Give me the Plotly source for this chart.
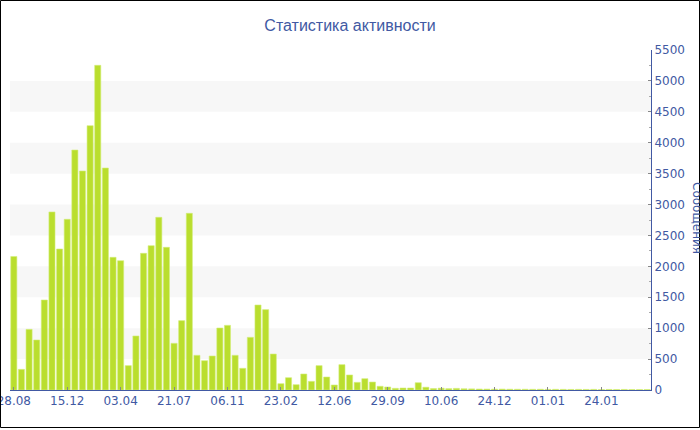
import plotly.graph_objects as go

# ---- data ----
bar_index = list(range(84))
values = [
    2160, 334, 981, 809, 1456, 2880, 2281, 2761, 3882, 3543,
    4276, 5252, 3591, 2146, 2092, 394, 874, 2211, 2335, 2793,
    2308, 755, 1122, 2858, 561, 474, 550, 1003, 1046, 561,
    351, 852, 1375, 1300, 582, 102, 199, 86, 259, 140,
    394, 210, 81, 410, 243, 124, 183, 129, 60, 49,
    27, 32, 32, 118, 45, 24, 30, 22, 26, 20,
    18, 16, 15, 14, 15, 13, 12, 12, 11, 12,
    10, 11, 10, 9, 10, 9, 10, 8, 9, 8,
    9, 8, 7, 8,
]
tick_positions = [0, 7, 14, 21, 28, 35, 42, 49, 56, 63, 70, 77]
tick_labels = ["28.08", "15.12", "03.04", "21.07", "06.11", "23.02",
               "12.06", "29.09", "10.06", "24.12", "01.01", "24.01"]
band_starts = [500, 1500, 2500, 3500, 4500]

W, H = 700, 430
L, R, T, B = 10, 49, 50, 40
pw, ph = W - L - R, H - T - B

blue = "#4159a3"
green = "#bade2e"

fig = go.Figure(go.Bar(
    x=bar_index, y=values,
    marker=dict(color=green, line=dict(color="#d4ee7a", width=0.6)),
))

shapes = []
for s in band_starts:
    shapes.append(dict(type="rect", xref="paper", yref="y", x0=0, x1=1, y0=s, y1=s + 500,
                       fillcolor="#f7f7f7", line=dict(width=0), layer="below"))
# outer frame
shapes.append(dict(type="rect", xref="paper", yref="paper",
                   x0=(0.5 - L) / pw, x1=(699.5 - L) / pw,
                   y0=(H - B - 427.5) / ph, y1=(H - B - 0.5) / ph,
                   line=dict(color="black", width=1), fillcolor="rgba(0,0,0,0)", layer="above"))

fig.update_layout(
    width=W, height=H,
    margin=dict(l=L, r=R, t=T, b=B, autoexpand=False),
    paper_bgcolor="white", plot_bgcolor="white",
    bargap=0.2,
    showlegend=False,
    title=dict(text="Статистика активности", x=0.5, xref="container", xanchor="center",
               y=1 - 25 / H, yref="container", yanchor="middle",
               font=dict(family="Liberation Sans", size=16, color=blue)),
    shapes=shapes,
    annotations=[dict(text="Сообщения", textangle=90, xref="paper", yref="paper",
                      x=(697 - L) / pw, y=(390 - 218) / ph, showarrow=False,
                      xanchor="center", yanchor="middle",
                      font=dict(family="DejaVu Sans", size=12, color=blue))],
    font=dict(family="DejaVu Sans", size=12, color=blue),
)
fig.update_xaxes(range=[-0.5, 83.5], tickmode="array", tickvals=tick_positions, ticktext=tick_labels,
                 automargin=False, ticklabeloverflow="allow",
                 showgrid=False, zeroline=False, showline=True, linecolor=blue, linewidth=1,
                 ticks="inside", ticklen=3, tickcolor="#888888",
                 tickfont=dict(family="DejaVu Sans", size=12, color=blue))
fig.update_yaxes(side="right", range=[0, 5500], tick0=0, dtick=500,
                 automargin=False, ticklabeloverflow="allow",
                 showgrid=False, zeroline=False, showline=True, linecolor=blue, linewidth=1,
                 ticks="inside", ticklen=3, tickcolor="#888888",
                 minor=dict(dtick=250, ticks="inside", ticklen=2, tickcolor="#aaaaaa", showgrid=False),
                 tickfont=dict(family="DejaVu Sans", size=12, color=blue))

fig.write_html("out.html", config={"displayModeBar": False},
               post_script="document.body.style.margin='0';")
